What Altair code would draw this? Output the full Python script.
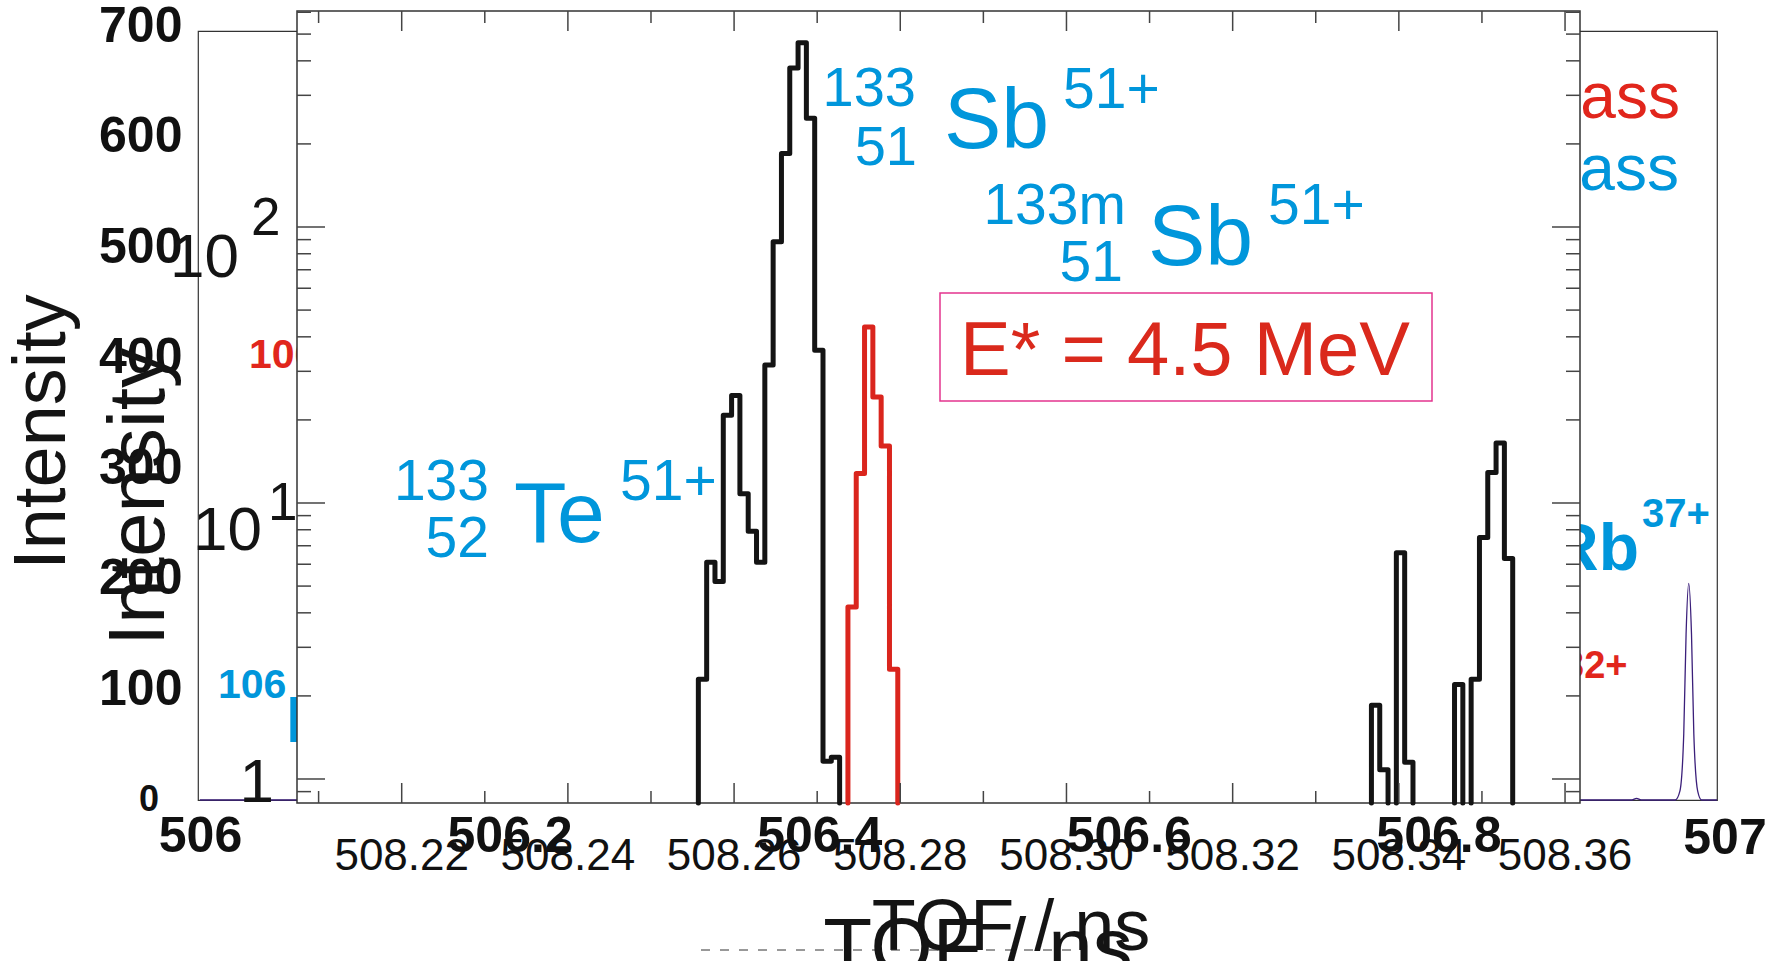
import altair as alt
import pandas as pd

# ---------------- background spectrum (purple, linear axes) ----------------
bg_tof = [506.000, 506.925, 506.928, 506.931, 506.953, 506.956, 506.9585, 506.960,
          506.9617, 506.9635, 506.965, 506.9675, 506.970, 506.980]
bg_intensity = [0, 0, 1.5, 0, 0, 8, 60, 150, 196, 150, 60, 8, 0, 0]
bg_xticks = [506, 506.2, 506.4, 506.6, 506.8]
bg_last_xlabel = "507"
bg_yticks = [100, 200, 300, 400, 500, 600, 700]
bg_zero_label = "0"

# ---------------- foreground histogram (log axis) ----------------
BIN_WIDTH = 0.001
black_bin_left = [508.2557, 508.2567, 508.2577, 508.2587, 508.2597, 508.2607, 508.2617,
                  508.2627, 508.2637, 508.2647, 508.2657, 508.2667, 508.2677, 508.2687,
                  508.2697, 508.2707, 508.2717,
                  508.3367, 508.3377, 508.3387, 508.3397, 508.3407,
                  508.3467, 508.3477, 508.3487, 508.3497, 508.3507, 508.3517, 508.3527]
black_counts = [2.3, 6.1, 5.2, 20.8, 24.5, 10.8, 7.9,
                6.1, 31.6, 88.5, 184.6, 377, 465, 248,
                35.8, 1.16, 1.2,
                1.85, 1.08, 0, 6.6, 1.15,
                2.2, 0, 2.3, 7.5, 12.9, 16.5, 6.3]
red_bin_left = [508.2737, 508.2747, 508.2757, 508.2767, 508.2777, 508.2787]
red_counts = [4.2, 12.8, 43.4, 24.2, 16.1, 2.5]

fg_xtick_major = [508.22, 508.24, 508.26, 508.28, 508.30, 508.32, 508.34, 508.36]
fg_xtick_label = ["508.22", "508.24", "508.26", "508.28", "508.30", "508.32",
                  "508.34", "508.36"]
fg_xtick_minor = [508.21, 508.23, 508.25, 508.27, 508.29, 508.31, 508.33, 508.35]
fg_ytick_major = [1, 10, 100]
fg_ytick_minor = [0.9, 2, 3, 4, 5, 6, 7, 8, 9, 20, 30, 40, 50, 60, 70, 80, 90,
                  200, 300, 400, 500, 600]
fg_ylabel_value = [100, 10, 1]
fg_ylabel_base = ["10", "10", "1"]
fg_ylabel_exp = ["2", "1", ""]

FONT = "Liberation Sans"
BLUE = "#0096DB"
RED = "#DC2A1F"
BLACK = "#141414"

# plot area = background frame; foreground scales mapped onto a sub-range of it
W, H = 1519, 769
FG_YMIN, FG_YMAX = 0.8185, 606.2
BG_X = alt.Scale(domain=[506, 507], range=[2, 1550], nice=False, zero=False)
BG_Y = alt.Scale(domain=[0, 700], range=[769, -5], nice=False, zero=False)
FG_X = alt.Scale(domain=[508.2074, 508.3618], range=[99, 1382], nice=False, zero=False)
FG_Y = alt.Scale(type="log", domain=[FG_YMIN, FG_YMAX], range=[772, -20], nice=False)


def step_rows(lefts, counts, floor, name):
    rows = []
    seg = 0
    prev_right = None
    for l, c in zip(lefts, counts):
        contiguous = prev_right is not None and abs(l - prev_right) < 1e-7
        if prev_right is not None and (c <= 0 or not contiguous):
            rows.append({"t": prev_right, "n": floor, "seg": f"{name}{seg}"})
            seg += 1
            prev_right = None
        if c <= 0:
            continue
        if prev_right is None:
            rows.append({"t": l, "n": floor, "seg": f"{name}{seg}"})
        rows.append({"t": l, "n": c, "seg": f"{name}{seg}"})
        rows.append({"t": l + BIN_WIDTH, "n": c, "seg": f"{name}{seg}"})
        prev_right = l + BIN_WIDTH
    if prev_right is not None:
        rows.append({"t": prev_right, "n": floor, "seg": f"{name}{seg}"})
    df = pd.DataFrame(rows)
    df["i"] = range(len(df))
    return df


def txt(s, x, y, size, color, weight="normal", align="left", baseline="alphabetic",
        angle=0, font=FONT):
    return alt.Chart(pd.DataFrame({"s": [s]})).mark_text(
        align=align, baseline=baseline, fontSize=size, font=font,
        fontWeight=weight, color=color, angle=angle
    ).encode(x=alt.value(x), y=alt.value(y), text="s:N")


# ---------------- background group ----------------
bg_df = pd.DataFrame({"tof": bg_tof, "intensity": bg_intensity})
bg_line = alt.Chart(bg_df).mark_line(color="#3B1F7A", strokeWidth=1.3,
                                     interpolate="monotone").encode(
    x=alt.X("tof:Q", scale=BG_X,
            axis=alt.Axis(orient="bottom", values=bg_xticks, format=".1~f",
                          labelFont=FONT, labelFontWeight="bold", labelFontSize=50,
                          labelColor="#111", ticks=False, tickSize=0, domain=False,
                          grid=False, labelPadding=11, labelFlush=False,
                          labelOverlap=False, title=None, zindex=0)),
    y=alt.Y("intensity:Q", scale=BG_Y,
            axis=alt.Axis(orient="left", values=bg_yticks,
                          labelFont=FONT, labelFontWeight="bold", labelFontSize=50,
                          labelColor="#111", ticks=False, tickSize=0, domain=False,
                          grid=False, labelPadding=16, labelOverlap=False,
                          title=None, zindex=0)),
)

dash = alt.Chart(pd.DataFrame({"k": [0]})).mark_rule(
    color="#333", strokeWidth=1, strokeDash=[9, 10]
).encode(x=alt.value(503), x2=alt.value(889), y=alt.value(919))

bg_group = alt.layer(
    bg_line,
    txt(bg_last_xlabel, 1527, 823, 50, "#111", weight="bold", align="center"),
    txt(bg_zero_label, -39, 769, 36, "#111", weight="bold", align="right",
        baseline="middle"),
    txt("mass", 1329, 87, 64, "#E1261C"),
    txt("mass", 1328, 159, 64, BLUE),
    txt("Rb", 1353, 539, 66, BLUE, weight="bold"),
    txt("37+", 1444, 496, 40, BLUE, weight="bold"),
    txt("32+", 1365, 647, 38, "#E1261C", weight="bold"),
    txt("106", 51, 337, 41, "#E1261C", weight="bold"),
    txt("106", 20, 667, 41, BLUE, weight="bold"),
    txt("Pd", 88, 711, 65, BLUE, weight="bold"),
    txt("Intensity", -155, 401, 74, BLACK, align="center", baseline="middle", angle=270),
    txt("TOF / ns", 813, 919, 72, BLACK, align="center"),
    dash,
)

# ---------------- foreground group ----------------
frame = alt.Chart(pd.DataFrame({"k": [0]})).mark_rect(
    fill="white", stroke="#333", strokeWidth=1.5
).encode(x=alt.value(99), x2=alt.value(1382), y=alt.value(-20), y2=alt.value(772))

black_df = step_rows(black_bin_left, black_counts, FG_YMIN, "b")
red_df = step_rows(red_bin_left, red_counts, FG_YMIN, "r")

black_hist = alt.Chart(black_df).mark_line(
    color=BLACK, strokeWidth=5, strokeJoin="round", strokeCap="round"
).encode(
    x=alt.X("t:Q", scale=FG_X, axis=None),
    y=alt.Y("n:Q", scale=FG_Y, axis=None),
    detail="seg:N",
    order=alt.Order("i:Q"),
)
red_hist = alt.Chart(red_df).mark_line(
    color="#DA251D", strokeWidth=5, strokeJoin="round", strokeCap="round"
).encode(
    x=alt.X("t:Q", scale=FG_X, axis=None),
    y=alt.Y("n:Q", scale=FG_Y, axis=None),
    detail="seg:N",
    order=alt.Order("i:Q"),
)

fg_xlabels = alt.Chart(pd.DataFrame({"v": fg_xtick_major, "s": fg_xtick_label})).mark_text(
    align="center", baseline="alphabetic", fontSize=44, font=FONT, color="#111"
).encode(x=alt.X("v:Q", scale=FG_X, axis=None), y=alt.value(839), text="s:N")


def xticks(vals, y1, y2):
    return alt.Chart(pd.DataFrame({"v": vals})).mark_rule(
        color="#444", strokeWidth=1.5
    ).encode(x=alt.X("v:Q", scale=FG_X, axis=None), y=alt.value(y1), y2=alt.value(y2))


def yticks(vals, x1, x2):
    return alt.Chart(pd.DataFrame({"v": vals})).mark_rule(
        color="#444", strokeWidth=1.5
    ).encode(y=alt.Y("v:Q", scale=FG_Y, axis=None), x=alt.value(x1), x2=alt.value(x2))


def ylab(i, s_key, x, dy, size, align):
    df = pd.DataFrame({"v": [fg_ylabel_value[i]],
                       "s": [fg_ylabel_base[i] if s_key == "base" else fg_ylabel_exp[i]]})
    return alt.Chart(df).mark_text(
        align=align, baseline="alphabetic", fontSize=size, font=FONT, color=BLACK, dy=dy
    ).encode(x=alt.value(x), y=alt.Y("v:Q", scale=FG_Y, axis=None), text="s:N")


estar_box = alt.Chart(pd.DataFrame({"k": [0]})).mark_rect(
    fill="white", stroke="#E4348F", strokeWidth=1.5
).encode(x=alt.value(742), x2=alt.value(1234), y=alt.value(262), y2=alt.value(370))

fg_group = alt.layer(
    frame,
    black_hist,
    red_hist,
    xticks(fg_xtick_major, 752, 772),
    xticks(fg_xtick_minor, 760, 772),
    xticks(fg_xtick_major, -20, 0),
    xticks(fg_xtick_minor, -20, -8),
    yticks(fg_ytick_major, 99, 127),
    yticks(fg_ytick_minor, 99, 113),
    yticks(fg_ytick_major, 1354, 1382),
    yticks(fg_ytick_minor, 1368, 1382),
    fg_xlabels,
    ylab(0, "base", 41, 50, 62, "right"),
    ylab(0, "exp", 53, 8, 53, "left"),
    ylab(1, "base", 64, 47, 62, "right"),
    ylab(1, "exp", 70, 17, 53, "left"),
    ylab(2, "base", 76, 23, 62, "right"),
    # nuclide annotations
    txt("133", 718, 75, 56, BLUE, align="right"),
    txt("51", 719, 134, 56, BLUE, align="right"),
    txt("Sb", 746, 117, 86, BLUE),
    txt("51+", 865, 77, 57, BLUE),
    txt("133m", 928, 193, 57, BLUE, align="right"),
    txt("51", 925, 250, 57, BLUE, align="right"),
    txt("Sb", 950, 234, 86, BLUE),
    txt("51+", 1070, 193, 57, BLUE),
    txt("133", 291, 469, 57, BLUE, align="right"),
    txt("52", 291, 526, 57, BLUE, align="right"),
    txt("Te", 316, 511, 86, BLUE),
    txt("51+", 422, 469, 57, BLUE),
    estar_box,
    txt("E* = 4.5 MeV", 987, 344, 76, "#DA291C", align="center"),
    txt("Intensity", -58, 466, 80, BLACK, align="center", baseline="middle", angle=270),
    txt("TOF / ns", 780, 943, 80, BLACK, align="center"),
)

chart = alt.layer(bg_group, fg_group).resolve_scale(
    x="independent", y="independent"
).resolve_axis(
    x="independent", y="independent"
).properties(
    width=W, height=H,
    autosize=alt.AutoSizeParams(type="none"),
    padding={"left": 198, "top": 31, "right": 66, "bottom": 161},
    background="white",
).configure_view(stroke="#333", strokeWidth=1.2)

chart.save("out.html", embed_options={"renderer": "svg", "actions": False})
